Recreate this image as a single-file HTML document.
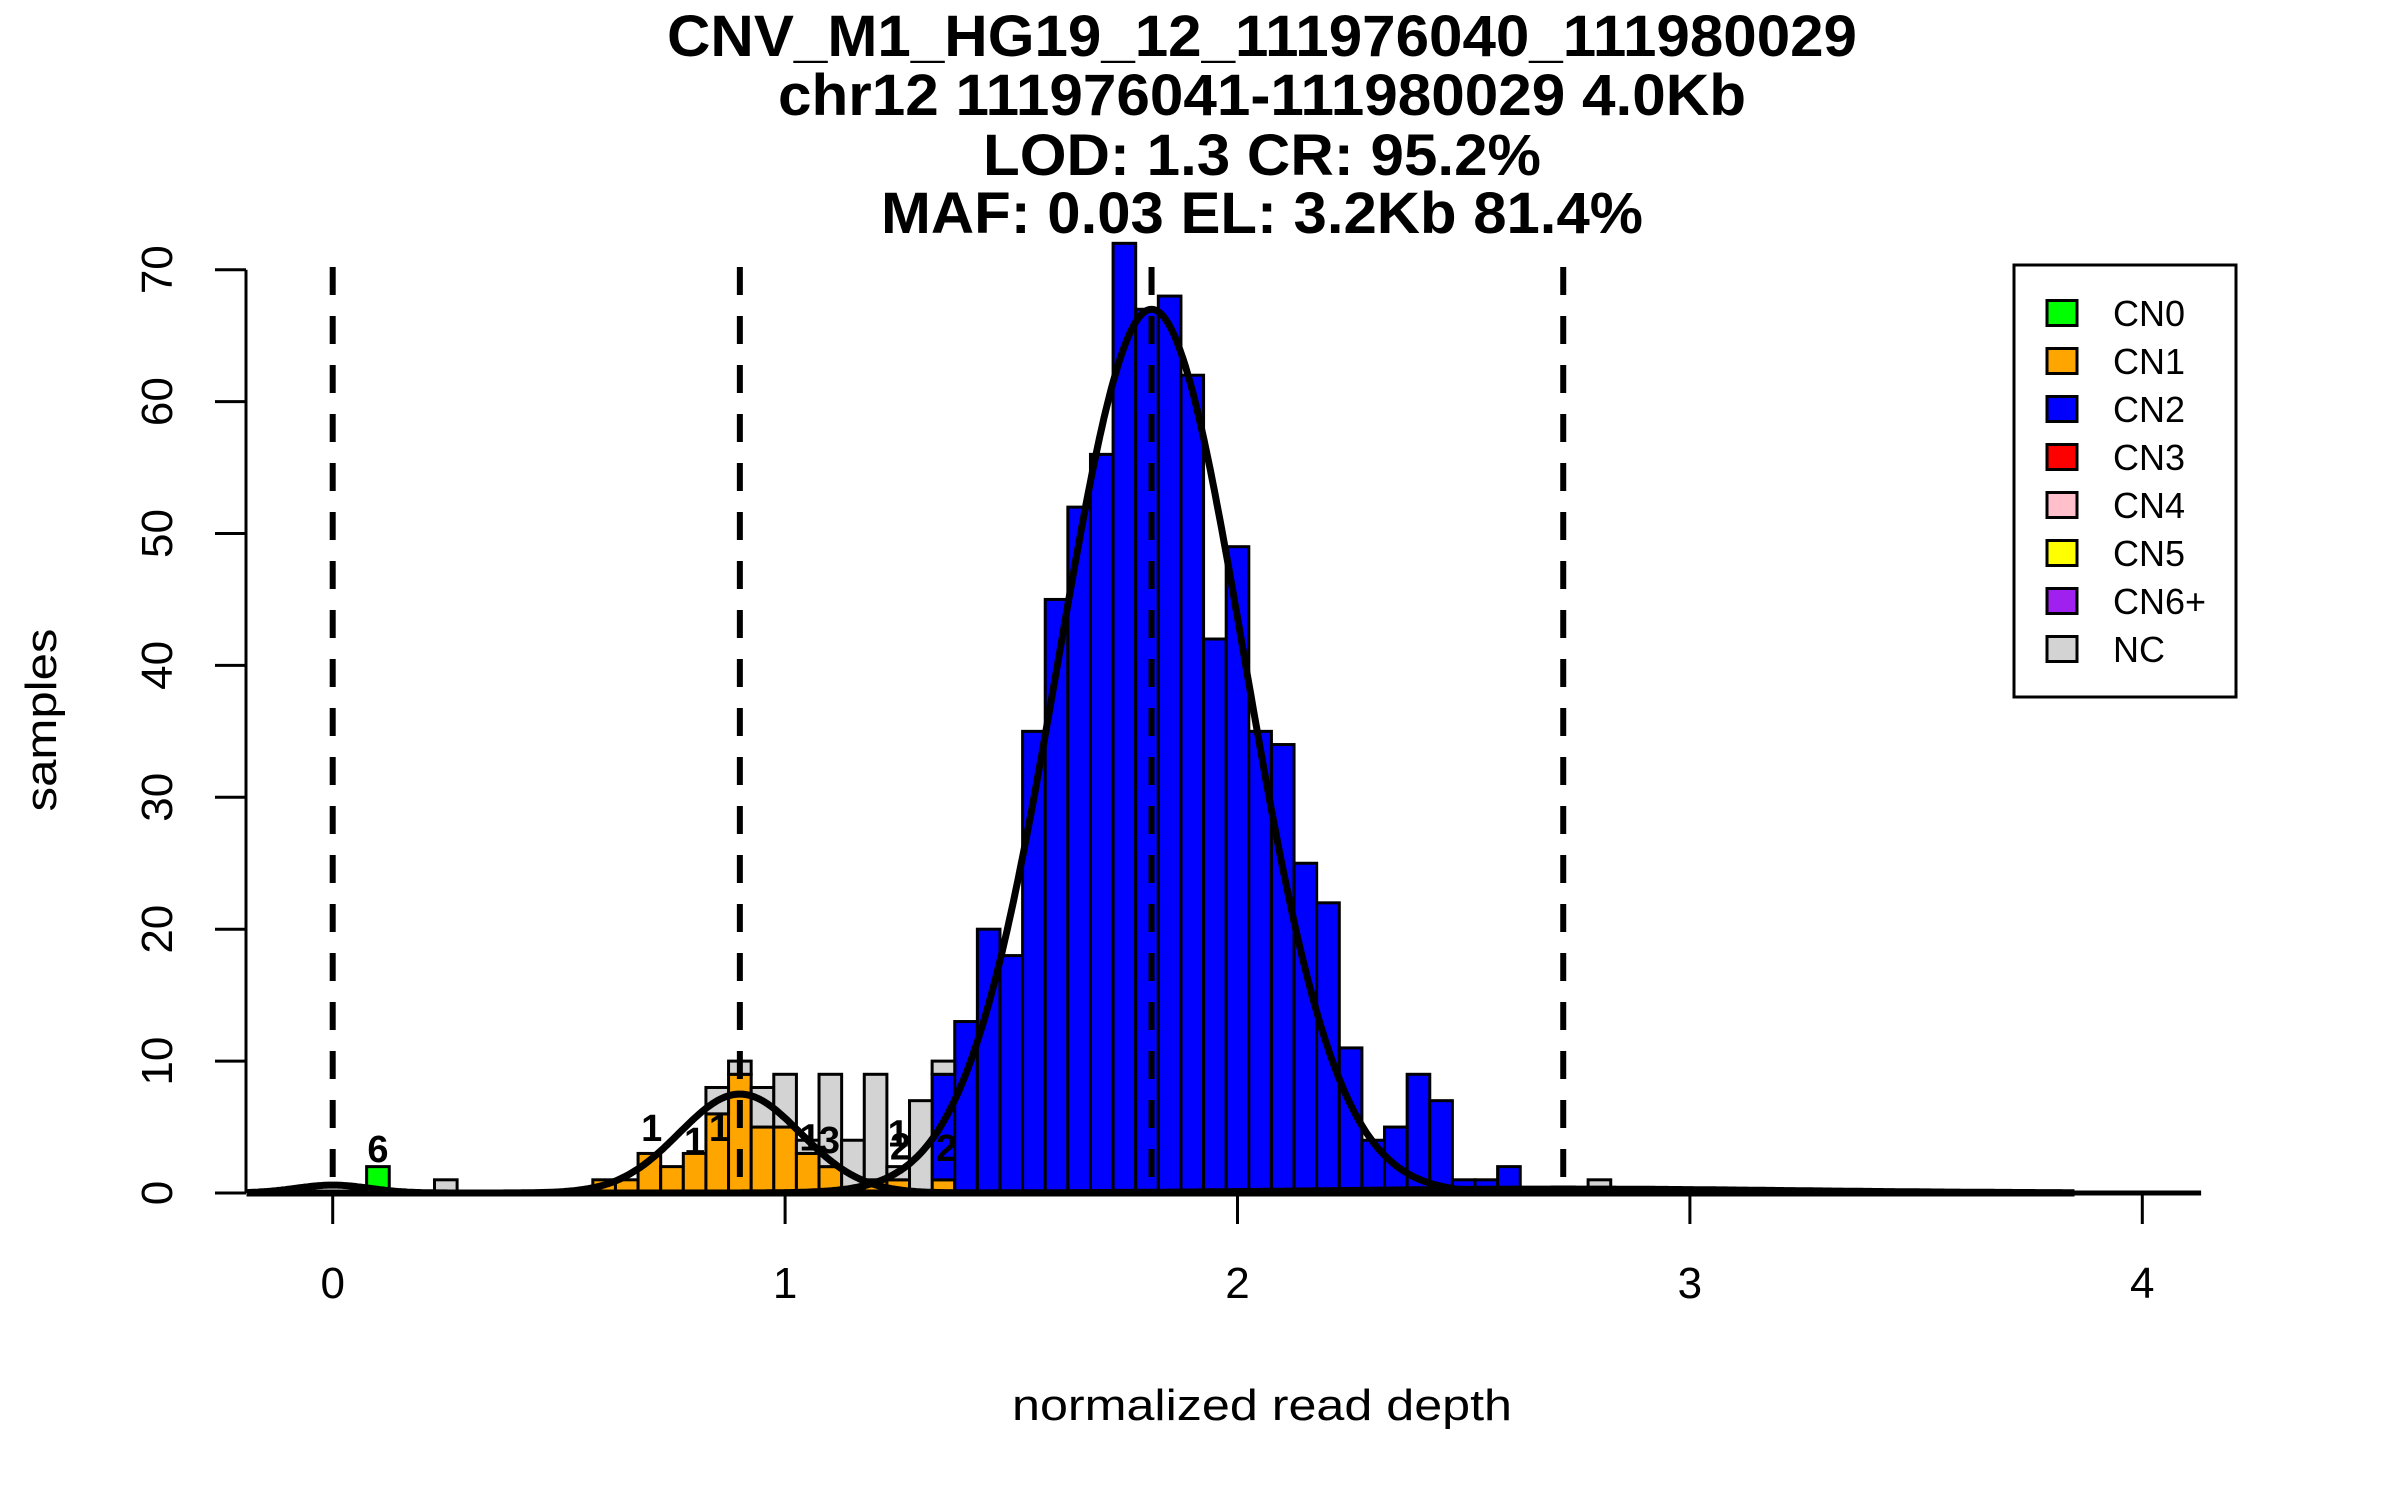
<!DOCTYPE html>
<html><head><meta charset="utf-8"><style>
html,body{margin:0;padding:0;background:#fff;}
svg{display:block;font-family:"Liberation Sans",sans-serif;}
</style></head><body>
<svg id="chart" width="2400" height="1500" viewBox="0 0 2400 1500" xmlns="http://www.w3.org/2000/svg">
<rect width="2400" height="1500" fill="#fff"/>
<g font-weight="bold" font-size="58" text-anchor="middle">
<text x="1262" y="56" textLength="1190" lengthAdjust="spacingAndGlyphs">CNV_M1_HG19_12_111976040_111980029</text>
<text x="1262" y="115" textLength="968" lengthAdjust="spacingAndGlyphs">chr12 111976041-111980029 4.0Kb</text>
<text x="1262" y="175" textLength="558" lengthAdjust="spacingAndGlyphs">LOD: 1.3 CR: 95.2%</text>
<text x="1262" y="233" textLength="762" lengthAdjust="spacingAndGlyphs">MAF: 0.03 EL: 3.2Kb 81.4%</text>
</g>
<g id="bars"></g>
<g id="curves"></g>
<g id="dashes"></g>
<g id="labels"></g>
<g id="axes"></g>
<text x="1262" y="1420" font-size="44" text-anchor="middle" textLength="500" lengthAdjust="spacingAndGlyphs">normalized read depth</text>
<text transform="translate(56,720) rotate(-90)" font-size="44" text-anchor="middle" textLength="183" lengthAdjust="spacingAndGlyphs">samples</text>
<g>
<rect x="2014" y="265" width="222" height="432" fill="#fff" stroke="#000" stroke-width="3"/>
<g id="legendItems"></g>
</g>
</svg>
<script>
const NS="http://www.w3.org/2000/svg";
const X0=332.7, XU=452.4, Y0=1193, YU=13.19;
function sx(v){return X0+v*XU;}
function sy(v){return Y0-v*YU;}
const binWidth=0.05;
const cn0Left=[0.075];
const cn0Counts=[2];
const cn1Left=[0.575,0.625,0.675,0.725,0.775,0.825,0.875,0.925,0.975,1.025,1.075,1.125,1.175,1.225,1.275,1.325];
const cn1Counts=[1,1,3,2,3,6,9,5,5,3,2,0,1,1,0,1];
const cn2Left=[1.325,1.375,1.425,1.475,1.525,1.575,1.625,1.675,1.725,1.775,1.825,1.875,1.925,1.975,2.025,2.075,2.125,2.175,2.225,2.275,2.325,2.375,2.425,2.475,2.525,2.575];
const cn2Counts=[8,13,20,18,35,45,52,56,72,67,68,62,42,49,35,34,25,22,11,4,5,9,7,1,1,2];
const ncLeft=[0.225,0.825,0.875,0.925,0.975,1.025,1.075,1.125,1.175,1.225,1.275,1.325,2.775];
const ncCounts=[1,2,1,3,4,1,7,4,8,1,7,1,1];
const yTicks=[0,10,20,30,40,50,60,70];
const xTicks=[0,1,2,3,4];
const cutoffs=[0,0.9,1.81,2.72];
const curveMeans=[0,0.9,1.81,2.72];
const curvePeaks=[0.6,7.5,67,0.3];
const curveSds=[0.08,0.134,0.205,0.5];
const labelX=[0.1,0.705,0.80,0.855,1.055,1.098,1.25,1.255,1.357];
const labelY=[3.4,5.0,4.0,5.0,4.3,4.1,4.6,3.6,3.5];
const labelText=["6","1","1","1","1","3","1","2","2"];
const legendNames=["CN0","CN1","CN2","CN3","CN4","CN5","CN6+","NC"];
const legendColors=["#00ff00","#ffa500","#0000ff","#ff0000","#ffc0cb","#ffff00","#a020f0","#d3d3d3"];

const stackBase={};
function key(v){return v.toFixed(3);}
const bars=document.getElementById('bars');
function drawSeries(lefts,counts,color,name){
  lefts.forEach((l,i)=>{
    const c=counts[i]; if(!c) return;
    const b=stackBase[key(l)]||0;
    const r=document.createElementNS(NS,'rect');
    
    
    r.setAttribute('x',sx(l));r.setAttribute('width',binWidth*XU);
    r.setAttribute('y',sy(b+c));r.setAttribute('height',c*YU);
    r.setAttribute('fill',color);r.setAttribute('stroke','#000');r.setAttribute('stroke-width','3');
    bars.appendChild(r);
    stackBase[key(l)]=b+c;
  });
}
drawSeries(cn0Left,cn0Counts,'#00ff00','cn0');
drawSeries(cn1Left,cn1Counts,'#ffa500','cn1');
drawSeries(cn2Left,cn2Counts,'#0000ff','cn2');
drawSeries(ncLeft,ncCounts,'#d3d3d3','nc');

const axes=document.getElementById('axes');
function line(g,x1,y1,x2,y2,w,name){
  const l=document.createElementNS(NS,'line');
  
  
  l.setAttribute('x1',x1);l.setAttribute('y1',y1);l.setAttribute('x2',x2);l.setAttribute('y2',y2);
  l.setAttribute('stroke','#000');l.setAttribute('stroke-width',w);
  g.appendChild(l);return l;
}
line(axes,sx(-0.03),Y0,sx(4.13),Y0,5,'baseline');
const curves=document.getElementById('curves');
curveMeans.forEach((m,i)=>{
  let d='';
  for(let x=-0.19;x<=3.85;x+=0.005){
    const y=curvePeaks[i]*Math.exp(-((x-m)*(x-m))/(2*curveSds[i]*curveSds[i]));
    d+=(d?'L':'M')+sx(x).toFixed(1)+','+sy(y).toFixed(1);
  }
  const p=document.createElementNS(NS,'path');
  
  
  p.setAttribute('d',d);p.setAttribute('fill','none');p.setAttribute('stroke','#000');p.setAttribute('stroke-width','7');
  p.setAttribute('stroke-linejoin','round');
  curves.appendChild(p);
});
const dashes=document.getElementById('dashes');
cutoffs.forEach(c=>{
  const l=line(dashes,sx(c),sy(70.2),sx(c),Y0,6,'cutoff-line');
  l.setAttribute('stroke-dasharray','28,21');
});
line(axes,246,sy(0),246,sy(70),3,'y-axis-line');
yTicks.forEach(t=>{
  line(axes,215,sy(t),246,sy(t),3,'y-tick');
  const tx=document.createElementNS(NS,'text');
  
  
  tx.setAttribute('transform','translate(172,'+sy(t)+') rotate(-90)');
  tx.setAttribute('text-anchor','middle');tx.setAttribute('font-size','44');
  tx.textContent=t;axes.appendChild(tx);
});
xTicks.forEach(t=>{
  line(axes,sx(t),Y0,sx(t),1224,3,'x-tick');
  const tx=document.createElementNS(NS,'text');
  
  
  tx.setAttribute('x',sx(t));tx.setAttribute('y',1298);
  tx.setAttribute('text-anchor','middle');tx.setAttribute('font-size','44');
  tx.textContent=t;axes.appendChild(tx);
});
const labels=document.getElementById('labels');
labelText.forEach((s,i)=>{
  const tx=document.createElementNS(NS,'text');
  
  
  tx.setAttribute('x',sx(labelX[i]));tx.setAttribute('y',sy(labelY[i])+14);
  tx.setAttribute('text-anchor','middle');tx.setAttribute('font-size','38');tx.setAttribute('font-weight','bold');
  tx.textContent=s;labels.appendChild(tx);
});
const lg=document.getElementById('legendItems');
legendNames.forEach((n,i)=>{
  const cy=313+i*48;
  const r=document.createElementNS(NS,'rect');
  
  
  r.setAttribute('x',2047);r.setAttribute('y',cy-12.5);r.setAttribute('width',30);r.setAttribute('height',25);
  r.setAttribute('fill',legendColors[i]);r.setAttribute('stroke','#000');r.setAttribute('stroke-width','3');
  lg.appendChild(r);
  const tx=document.createElementNS(NS,'text');
  
  
  tx.setAttribute('x',2113);tx.setAttribute('y',cy+13);tx.setAttribute('font-size','36');
  tx.textContent=n;lg.appendChild(tx);
});
</script>
</body></html>
